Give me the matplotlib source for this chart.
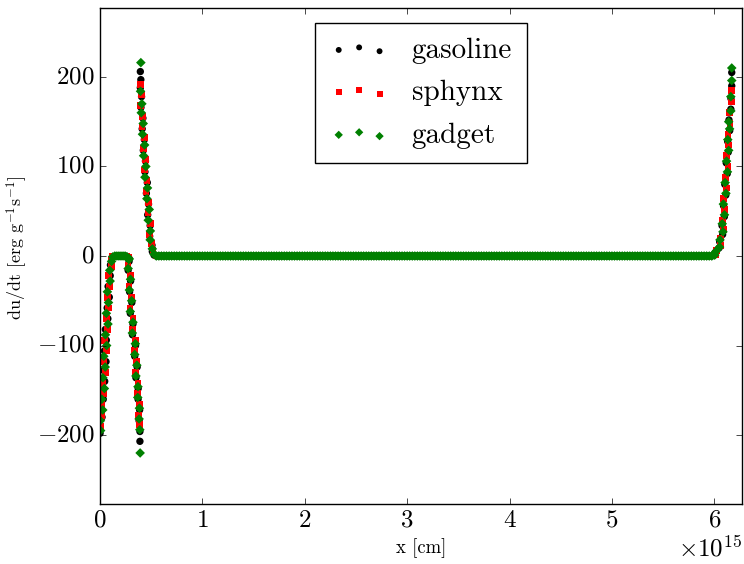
import matplotlib
matplotlib.use("Agg")
import matplotlib.pyplot as plt

# x positions are in units of 1e15 cm, du/dt in erg g^-1 s^-1
X_UNIT = 1e15

# flat part of the profile (all three codes sit on zero here)
FLAT_X = [0.55, 0.575, 0.60, 0.625, 0.65, 0.675, 0.70, 0.725, 0.75, 0.775,
          0.80, 0.825, 0.85, 0.875, 0.90, 0.925, 0.95, 0.975, 1.00, 1.025,
          1.05, 1.075, 1.10, 1.125, 1.15, 1.175, 1.20, 1.225, 1.25, 1.275,
          1.30, 1.325, 1.35, 1.375, 1.40, 1.425, 1.45, 1.475, 1.50, 1.525,
          1.55, 1.575, 1.60, 1.625, 1.65, 1.675, 1.70, 1.725, 1.75, 1.775,
          1.80, 1.825, 1.85, 1.875, 1.90, 1.925, 1.95, 1.975, 2.00, 2.025,
          2.05, 2.075, 2.10, 2.125, 2.15, 2.175, 2.20, 2.225, 2.25, 2.275,
          2.30, 2.325, 2.35, 2.375, 2.40, 2.425, 2.45, 2.475, 2.50, 2.525,
          2.55, 2.575, 2.60, 2.625, 2.65, 2.675, 2.70, 2.725, 2.75, 2.775,
          2.80, 2.825, 2.85, 2.875, 2.90, 2.925, 2.95, 2.975, 3.00, 3.025,
          3.05, 3.075, 3.10, 3.125, 3.15, 3.175, 3.20, 3.225, 3.25, 3.275,
          3.30, 3.325, 3.35, 3.375, 3.40, 3.425, 3.45, 3.475, 3.50, 3.525,
          3.55, 3.575, 3.60, 3.625, 3.65, 3.675, 3.70, 3.725, 3.75, 3.775,
          3.80, 3.825, 3.85, 3.875, 3.90, 3.925, 3.95, 3.975, 4.00, 4.025,
          4.05, 4.075, 4.10, 4.125, 4.15, 4.175, 4.20, 4.225, 4.25, 4.275,
          4.30, 4.325, 4.35, 4.375, 4.40, 4.425, 4.45, 4.475, 4.50, 4.525,
          4.55, 4.575, 4.60, 4.625, 4.65, 4.675, 4.70, 4.725, 4.75, 4.775,
          4.80, 4.825, 4.85, 4.875, 4.90, 4.925, 4.95, 4.975, 5.00, 5.025,
          5.05, 5.075, 5.10, 5.125, 5.15, 5.175, 5.20, 5.225, 5.25, 5.275,
          5.30, 5.325, 5.35, 5.375, 5.40, 5.425, 5.45, 5.475, 5.50, 5.525,
          5.55, 5.575, 5.60, 5.625, 5.65, 5.675, 5.70, 5.725, 5.75, 5.775,
          5.80, 5.825, 5.85, 5.875, 5.90, 5.925, 5.95, 5.975]
FLAT_Y = [0.0] * len(FLAT_X)

# gasoline
GAS_X = [0.001, 0.001, 0.020, 0.009, 0.032, 0.019, 0.046, 0.036, 0.059, 0.043,
         0.062, 0.052, 0.077, 0.070, 0.091, 0.079, 0.100, 0.102,
         0.115, 0.13, 0.15, 0.17, 0.19, 0.21, 0.23, 0.25, 0.27, 0.285,
         0.284, 0.275, 0.299, 0.289, 0.311, 0.296, 0.322, 0.317, 0.347, 0.339,
         0.363, 0.351, 0.373, 0.372, 0.387, 0.382, 0.390, 0.390,
         0.394, 0.399, 0.394, 0.406, 0.400, 0.419, 0.412, 0.433, 0.423, 0.444,
         0.439, 0.462, 0.453, 0.474, 0.466, 0.490, 0.485, 0.508, 0.511, 0.528,
         5.999, 6.010, 6.046, 6.052, 6.081, 6.075, 6.098, 6.090, 6.112, 6.102,
         6.126, 6.116, 6.136, 6.130, 6.150, 6.143, 6.161, 6.162, 6.170, 6.170]
GAS_Y = [-198, -192, -180, -170, -160, -150, -140, -128, -118, -106,
         -94, -82, -70, -58, -46, -34, -22, -10,
         -2, -1, 0, 0, 0, 0, 0, 0, -1, -3,
         -6, -16, -28, -40, -52, -64, -76, -88, -100, -112,
         -124, -136, -148, -160, -172, -184, -196, -207,
         206, 197, 188, 178, 166, 154, 142, 130, 118, 106,
         94, 82, 70, 58, 46, 34, 22, 12, 5, 1,
         1, 4, 9, 16, 24, 34, 44, 56, 68, 80,
         92, 104, 116, 128, 140, 152, 164, 176, 190, 205]

# sphynx
SPH_X = [0.002, 0.020, 0.013, 0.039, 0.029, 0.052, 0.037, 0.060, 0.046, 0.072,
         0.061, 0.086, 0.072, 0.093, 0.085, 0.109, 0.108,
         0.12, 0.14, 0.16, 0.18, 0.20, 0.22, 0.24, 0.26, 0.28,
         0.274, 0.295, 0.284, 0.308, 0.293, 0.322, 0.315, 0.346, 0.335, 0.358,
         0.346, 0.372, 0.367, 0.385, 0.379, 0.389,
         0.395, 0.404, 0.399, 0.417, 0.411, 0.431, 0.423, 0.445, 0.438, 0.459,
         0.450, 0.474, 0.469, 0.490, 0.483, 0.504, 0.518,
         6.011, 6.024, 6.058, 6.060, 6.087, 6.079, 6.101, 6.091, 6.116, 6.111,
         6.133, 6.122, 6.141, 6.134, 6.152, 6.150, 6.168, 6.170]
SPH_Y = [-190, -178, -166, -154, -142, -130, -118, -106, -94, -82,
         -70, -58, -46, -34, -22, -12, -5,
         -1, 0, 0, 0, 0, 0, 0, 0, -2,
         -10, -22, -34, -46, -58, -70, -82, -94, -106, -118,
         -130, -142, -154, -166, -178, -188,
         192, 180, 168, 156, 144, 132, 120, 108, 96, 84,
         72, 60, 48, 36, 24, 14, 6,
         2, 6, 12, 20, 30, 40, 52, 64, 76, 88,
         100, 112, 124, 136, 148, 160, 172, 185]

# gadget
GAD_X = [0.006, 0.004, 0.027, 0.018, 0.043, 0.028, 0.051, 0.037, 0.065, 0.053,
         0.078, 0.062, 0.083, 0.072, 0.099, 0.095, 0.113,
         0.125, 0.145, 0.165, 0.185, 0.205, 0.225, 0.245, 0.265, 0.285,
         0.282, 0.275, 0.298, 0.287, 0.309, 0.296, 0.322, 0.316, 0.345, 0.339,
         0.360, 0.351, 0.371, 0.369, 0.385, 0.382, 0.389, 0.392,
         0.399, 0.396, 0.409, 0.403, 0.422, 0.415, 0.436, 0.426, 0.448, 0.439,
         0.464, 0.458, 0.481, 0.471, 0.492, 0.490, 0.511, 0.528,
         6.003, 6.014, 6.051, 6.055, 6.084, 6.077, 6.099, 6.088, 6.113, 6.105,
         6.128, 6.119, 6.140, 6.131, 6.149, 6.140, 6.161, 6.161, 6.170, 6.170]
GAD_Y = [-195, -184, -172, -160, -148, -136, -124, -112, -100, -88,
         -76, -64, -52, -40, -28, -16, -6,
         -1, 0, 0, 0, 0, 0, 0, -1, -3,
         -4, -14, -26, -38, -50, -62, -74, -86, -98, -110,
         -122, -134, -146, -158, -170, -182, -194, -220,
         216, 184, 170, 160, 148, 136, 124, 112, 100, 88,
         76, 64, 52, 40, 28, 18, 8, 2,
         1, 5, 10, 18, 27, 36, 46, 58, 70, 82,
         94, 106, 118, 130, 142, 150, 162, 178, 196, 210]

SERIES = [
    ("gasoline", GAS_X, GAS_Y, "black", "o", 28),
    ("sphynx", SPH_X, SPH_Y, "red", "s", 24),
    ("gadget", GAD_X, GAD_Y, "green", "D", 24),
]


def main():
    plt.style.use("classic")
    plt.rcParams.update({
        "font.family": "serif", "font.serif": ["cmr10"],
        "mathtext.fontset": "cm", "axes.formatter.use_mathtext": True,
        "figure.facecolor": "white", "savefig.facecolor": "white",
    })
    fig = plt.figure(figsize=(7.44, 5.64), dpi=100)
    ax = fig.add_axes([0.1344, 0.1064, 0.8629, 0.8794])

    for label, xs, ys, color, marker, size in SERIES:
        x_all = [x * X_UNIT for x in xs + FLAT_X]
        y_all = ys + FLAT_Y
        ax.scatter(x_all, y_all, s=size, c=color, marker=marker,
                   edgecolors="none", label=label)

    ax.set_xlim(0, 6.27e15)
    ax.set_ylim(-277, 277)
    ax.set_yticks([-200, -100, 0, 100, 200])
    ax.tick_params(labelsize=18)
    ax.xaxis.get_offset_text().set_fontsize(18)
    ax.set_xlabel("x [cm]", fontsize=13.5)
    ax.set_ylabel(r"du/dt [erg g$^{-1}$s$^{-1}$]", fontsize=13)
    # the reference label sits a little above the axis centre
    ax.yaxis.label.set_y(0.516)
    leg = ax.legend(loc="upper center", fontsize=21, scatterpoints=3,
                    labelspacing=0.55, borderpad=0.5)
    # keep the legend markers at their original small size
    for h in leg.legend_handles:
        h.set_sizes([18])

    fig.savefig("out.png", dpi=100)
    plt.close(fig)


if __name__ == "__main__":
    main()
